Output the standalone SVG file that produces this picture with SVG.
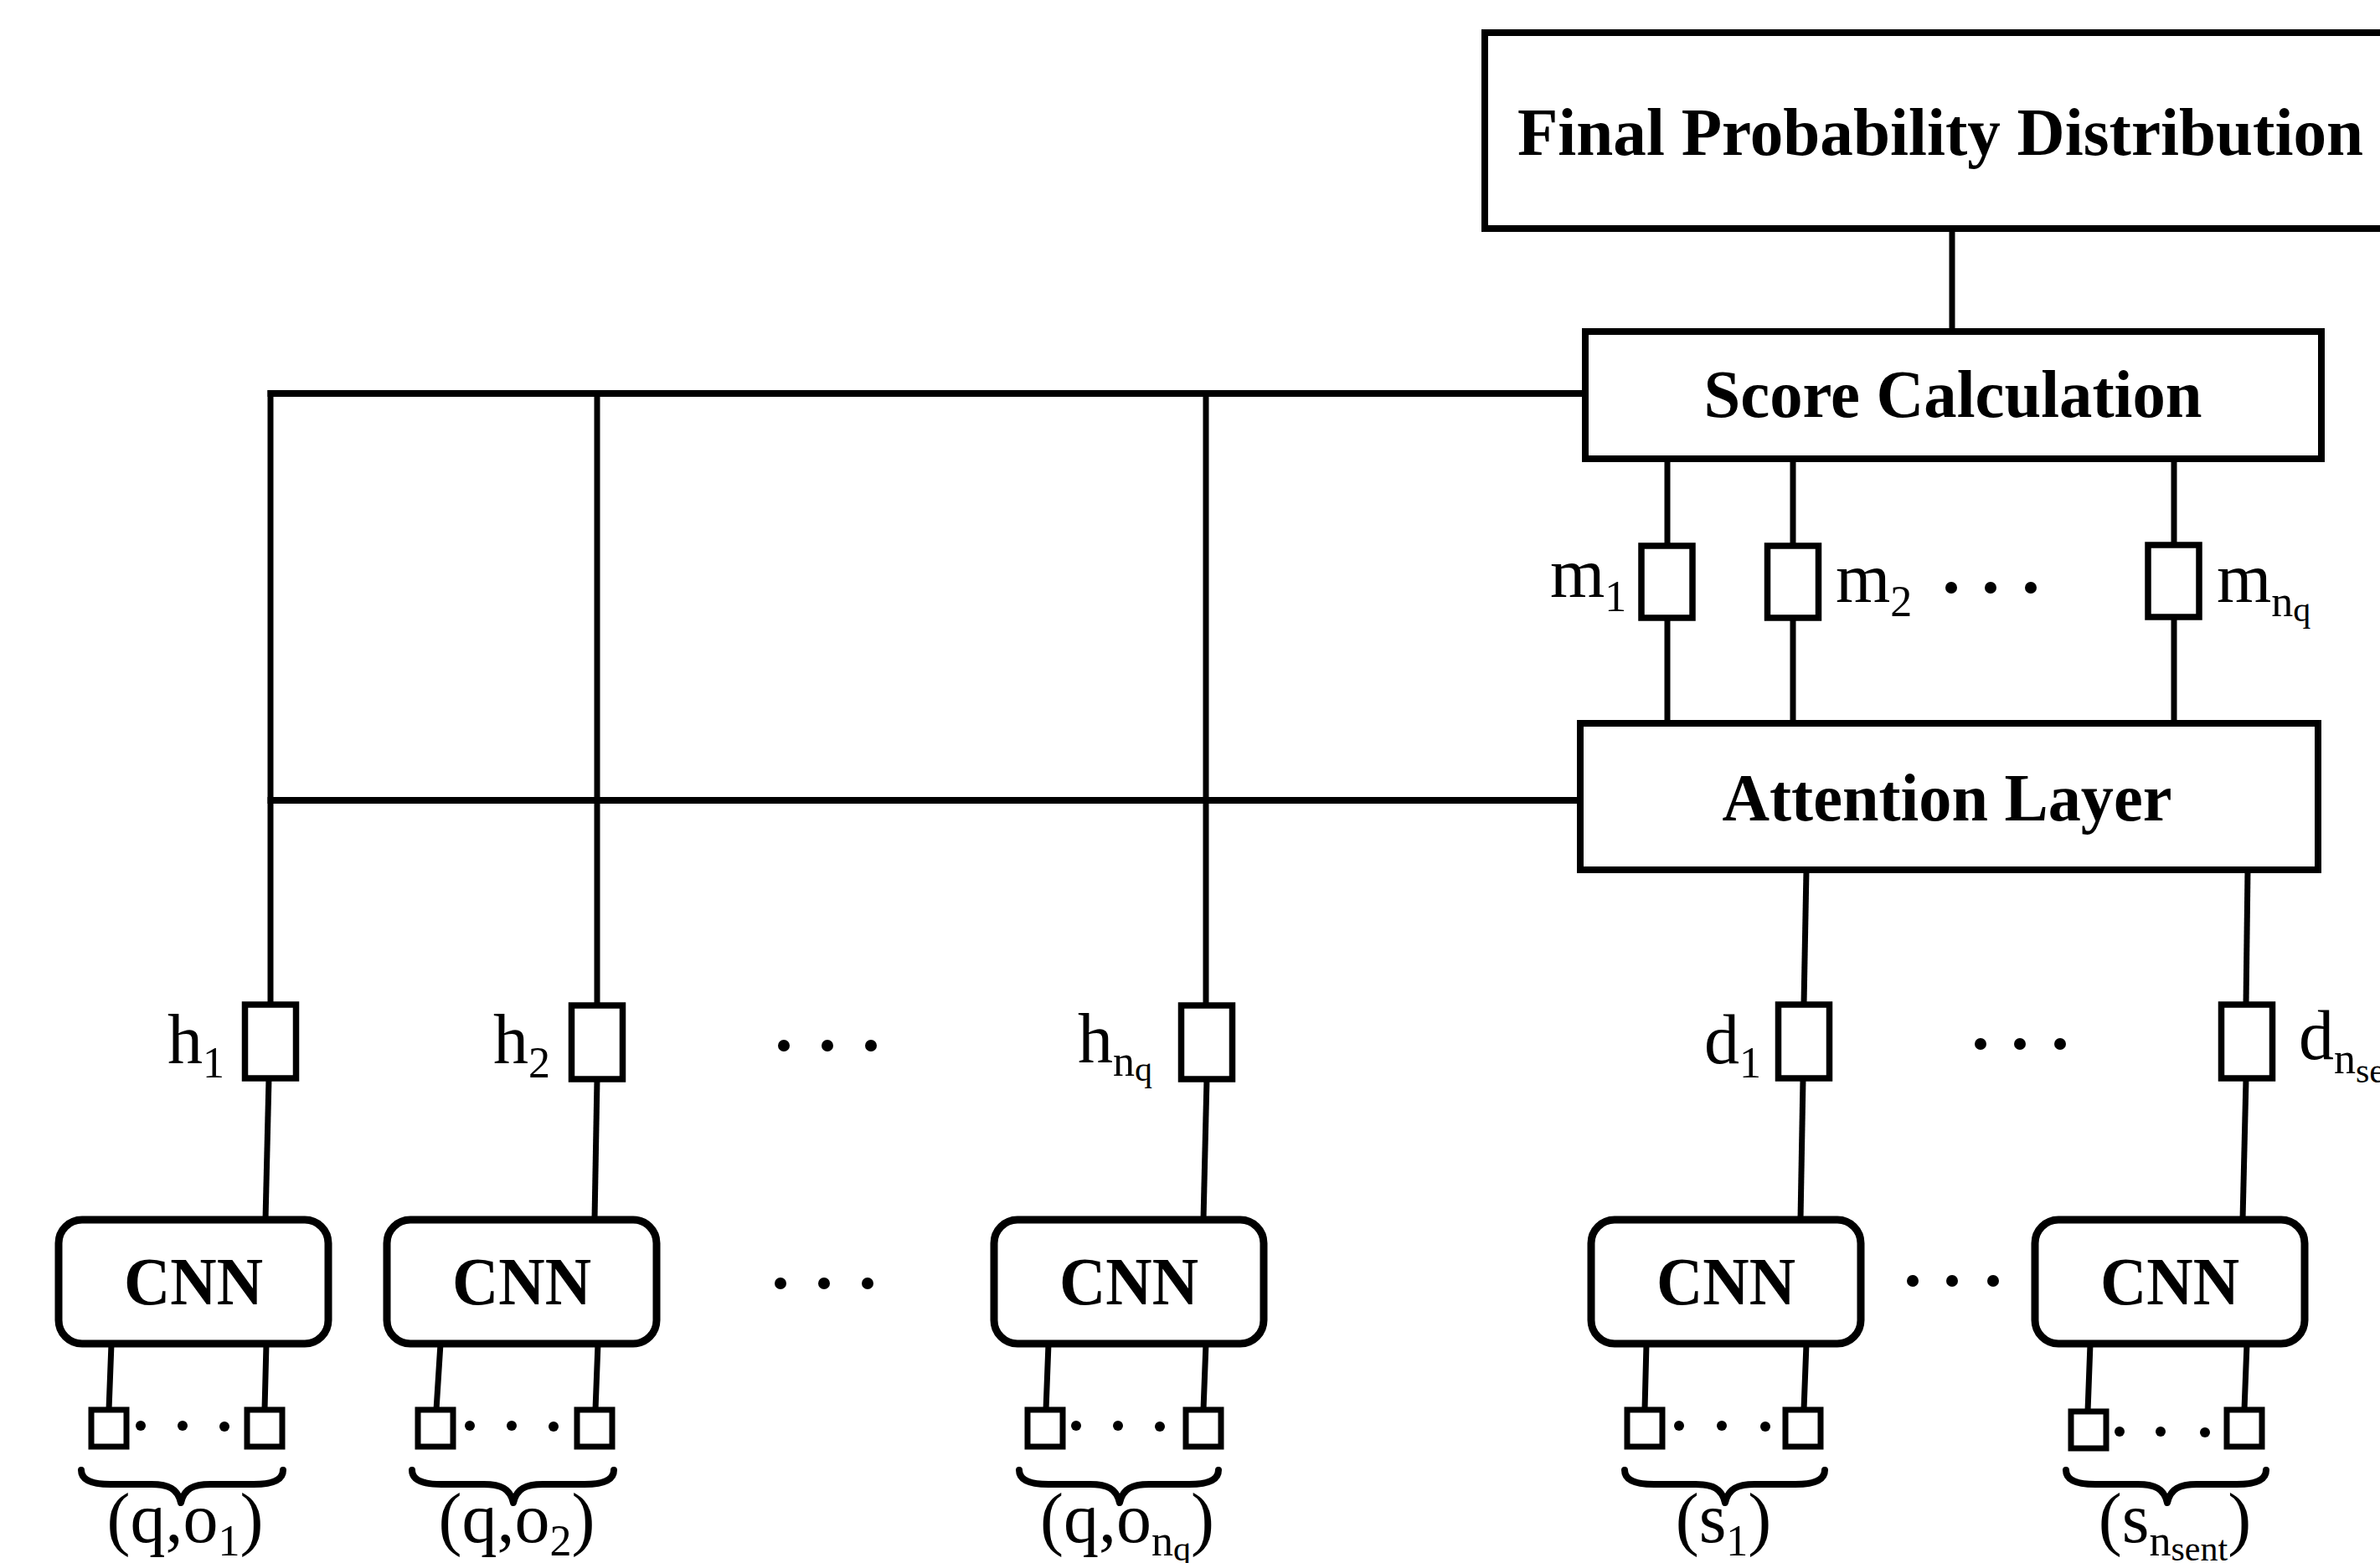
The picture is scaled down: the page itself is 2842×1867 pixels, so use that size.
<svg xmlns="http://www.w3.org/2000/svg" width="2842" height="1867" viewBox="0 0 2842 1867">
<style>
.box{fill:#fff;stroke:#000;stroke-width:8}
.vec{fill:#fff;stroke:#000;stroke-width:7.5}
.cnn{fill:#fff;stroke:#000;stroke-width:9}
.tok{fill:#fff;stroke:#000;stroke-width:7}
.wire{fill:none;stroke:#000;stroke-width:7}
.bus{fill:none;stroke:#000;stroke-width:8}
.brace{fill:none;stroke:#000;stroke-width:8;stroke-linecap:round;stroke-linejoin:round}
.title{font-family:"Liberation Serif","Times New Roman",serif;font-weight:bold;font-size:80px;text-anchor:middle}
.lbl{font-family:"Liberation Serif","Times New Roman",serif;font-size:84px}
.mid{text-anchor:middle}
.sub{font-size:52px}
.ssub{font-size:42px}
.dot{fill:#000}
</style>
<defs>
  <rect id="vecbox" class="vec" x="-30.5" y="0" width="61" height="88"/>
  <rect id="token" class="tok" x="-21" y="0" width="42" height="44"/>
</defs>
<rect width="2842" height="1867" fill="#fff"/>

<!-- wiring between the layers -->
<g id="connectors">
  <path class="bus" d="M1893 470 H319.5"/>
  <path class="bus" d="M1887 956 H319.5"/>
  <path class="wire" d="M323 466 V1200"/>
  <path class="wire" d="M713 470 V1200"/>
  <path class="wire" d="M1440 470 V1200"/>
  <path class="wire" d="M2331 273 V396"/>
  <path class="wire" d="M1991 548 V652 M1991 738 V864"/>
  <path class="wire" d="M2141 548 V652 M2141 738 V864"/>
  <path class="wire" d="M2596 548 V652 M2596 738 V864"/>
  <path class="wire" d="M2157 1039 L2154 1200"/>
  <path class="wire" d="M2684 1039 L2682 1200"/>
  <path class="wire" d="M321 1289 L317 1457"/>
  <path class="wire" d="M713 1289 L710 1457"/>
  <path class="wire" d="M1441 1289 L1437 1457"/>
  <path class="wire" d="M2153 1289 L2150 1457"/>
  <path class="wire" d="M2682 1289 L2678 1457"/>
  <path class="wire" d="M133 1605 L130 1684 M318 1605 L316 1684"/>
  <path class="wire" d="M526 1605 L521 1684 M714 1605 L711 1684"/>
  <path class="wire" d="M1252 1605 L1249 1684 M1440 1605 L1437 1684"/>
  <path class="wire" d="M1966 1605 L1964 1684 M2157 1605 L2154 1684"/>
  <path class="wire" d="M2496 1605 L2493 1686 M2683 1605 L2680 1684"/>
</g>

<g id="final">
  <rect class="box" x="1773" y="39" width="1100" height="234"/>
  <text class="title" x="2317" y="185" textLength="1010" lengthAdjust="spacingAndGlyphs">Final Probability Distribution</text>
</g>

<g id="score">
  <rect class="box" x="1893" y="396" width="879" height="152"/>
  <text class="title" x="2332" y="498" textLength="595" lengthAdjust="spacingAndGlyphs">Score Calculation</text>
</g>

<g id="attention">
  <rect class="box" x="1887" y="864" width="881" height="175"/>
  <text class="title" x="2325" y="980" textLength="537" lengthAdjust="spacingAndGlyphs">Attention Layer</text>
</g>

<!-- memory vectors -->
<g id="m1">
  <rect class="vec" x="1960" y="652" width="61" height="86"/>
  <text class="lbl" x="1851" y="713">m<tspan class="sub" dy="17">1</tspan></text>
</g>
<g id="m2">
  <rect class="vec" x="2110.5" y="652" width="61" height="86"/>
  <text class="lbl" x="2192" y="719">m<tspan class="sub" dy="17">2</tspan></text>
</g>
<g id="m-dots">
  <circle class="dot" cx="2330" cy="702" r="7"/>
  <circle class="dot" cx="2377" cy="702" r="7"/>
  <circle class="dot" cx="2425" cy="702" r="7"/>
</g>
<g id="mnq">
  <rect class="vec" x="2565" y="651" width="61" height="86"/>
  <text class="lbl" x="2647" y="719">m<tspan class="sub" dy="17">n</tspan><tspan class="ssub" dy="6">q</tspan></text>
</g>

<!-- option encodings -->
<g id="h1">
  <use href="#vecbox" x="323" y="1200"/>
  <text class="lbl" x="200" y="1270">h<tspan class="sub" dy="17">1</tspan></text>
</g>
<g id="h2">
  <use href="#vecbox" x="713" y="1201"/>
  <text class="lbl" x="589" y="1270">h<tspan class="sub" dy="17">2</tspan></text>
</g>
<g id="h-dots">
  <circle class="dot" cx="936" cy="1249" r="7"/>
  <circle class="dot" cx="988" cy="1249" r="7"/>
  <circle class="dot" cx="1040" cy="1249" r="7"/>
</g>
<g id="hnq">
  <use href="#vecbox" x="1441" y="1201"/>
  <text class="lbl" x="1287" y="1269">h<tspan class="sub" dy="16">n</tspan><tspan class="ssub" dy="6">q</tspan></text>
</g>

<!-- sentence encodings -->
<g id="d1">
  <use href="#vecbox" x="2154" y="1200"/>
  <text class="lbl" x="2035" y="1270">d<tspan class="sub" dy="17">1</tspan></text>
</g>
<g id="d-dots">
  <circle class="dot" cx="2365" cy="1247" r="7"/>
  <circle class="dot" cx="2412" cy="1247" r="7"/>
  <circle class="dot" cx="2460" cy="1247" r="7"/>
</g>
<g id="dnsent">
  <use href="#vecbox" x="2683" y="1200"/>
  <text class="lbl" x="2745" y="1265">d<tspan class="sub" dy="17">n</tspan><tspan class="ssub" dy="11">sent</tspan></text>
</g>

<!-- CNN encoders -->
<g id="cnn1">
  <rect class="cnn" x="70" y="1457" width="322" height="148" rx="28"/>
  <text class="title" x="231" y="1558" textLength="166" lengthAdjust="spacingAndGlyphs">CNN</text>
</g>
<g id="cnn2">
  <rect class="cnn" x="462" y="1457" width="322" height="148" rx="28"/>
  <text class="title" x="623" y="1558" textLength="166" lengthAdjust="spacingAndGlyphs">CNN</text>
</g>
<g id="cnn-dots-left">
  <circle class="dot" cx="932" cy="1533" r="7"/>
  <circle class="dot" cx="984" cy="1533" r="7"/>
  <circle class="dot" cx="1036" cy="1533" r="7"/>
</g>
<g id="cnn3">
  <rect class="cnn" x="1187" y="1457" width="322" height="148" rx="28"/>
  <text class="title" x="1348" y="1558" textLength="166" lengthAdjust="spacingAndGlyphs">CNN</text>
</g>
<g id="cnn4">
  <rect class="cnn" x="1900" y="1457" width="322" height="148" rx="28"/>
  <text class="title" x="2061" y="1558" textLength="166" lengthAdjust="spacingAndGlyphs">CNN</text>
</g>
<g id="cnn-dots-right">
  <circle class="dot" cx="2284" cy="1530" r="7"/>
  <circle class="dot" cx="2331" cy="1530" r="7"/>
  <circle class="dot" cx="2380" cy="1530" r="7"/>
</g>
<g id="cnn5">
  <rect class="cnn" x="2430" y="1457" width="322" height="148" rx="28"/>
  <text class="title" x="2591" y="1558" textLength="166" lengthAdjust="spacingAndGlyphs">CNN</text>
</g>

<!-- word inputs with braces and labels -->
<g id="in1">
  <use href="#token" x="130" y="1684"/>
  <use href="#token" x="316" y="1684"/>
  <circle class="dot" cx="168" cy="1703" r="6"/>
  <circle class="dot" cx="218" cy="1703" r="6"/>
  <circle class="dot" cx="268" cy="1704" r="6"/>
  <path class="brace" d="M97 1756 C97 1768 109 1773 132 1773 L181 1773 C201 1773 212 1778 216 1795 C220 1778 231 1773 251 1773 L303 1773 C326 1773 338 1768 338 1756"/>
  <text class="lbl mid" x="221" y="1842">(q,o<tspan class="sub" dy="16">1</tspan><tspan dy="-16">)</tspan></text>
</g>
<g id="in2">
  <use href="#token" x="520" y="1684"/>
  <use href="#token" x="710" y="1684"/>
  <circle class="dot" cx="561" cy="1703" r="6"/>
  <circle class="dot" cx="611" cy="1703" r="6"/>
  <circle class="dot" cx="661" cy="1704" r="6"/>
  <path class="brace" d="M492 1756 C492 1768 504 1773 527 1773 L578 1773 C598 1773 609 1778 613 1795 C617 1778 628 1773 648 1773 L698 1773 C721 1773 733 1768 733 1756"/>
  <text class="lbl mid" x="617" y="1842">(q,o<tspan class="sub" dy="16">2</tspan><tspan dy="-16">)</tspan></text>
</g>
<g id="in3">
  <use href="#token" x="1248" y="1684"/>
  <use href="#token" x="1437" y="1684"/>
  <circle class="dot" cx="1285" cy="1703" r="6"/>
  <circle class="dot" cx="1335" cy="1703" r="6"/>
  <circle class="dot" cx="1385" cy="1704" r="6"/>
  <path class="brace" d="M1217 1756 C1217 1768 1229 1773 1252 1773 L1302 1773 C1322 1773 1333 1778 1337 1795 C1341 1778 1352 1773 1372 1773 L1420 1773 C1443 1773 1455 1768 1455 1756"/>
  <text class="lbl mid" x="1346" y="1842">(q,o<tspan class="sub" dy="16">n</tspan><tspan class="ssub" dy="6">q</tspan><tspan dy="-22">)</tspan></text>
</g>
<g id="in4">
  <use href="#token" x="1964" y="1684"/>
  <use href="#token" x="2153" y="1684"/>
  <circle class="dot" cx="2005" cy="1703" r="6"/>
  <circle class="dot" cx="2056" cy="1703" r="6"/>
  <circle class="dot" cx="2108" cy="1704" r="6"/>
  <path class="brace" d="M1940 1756 C1940 1768 1952 1773 1975 1773 L2025 1773 C2045 1773 2056 1778 2060 1795 C2064 1778 2075 1773 2095 1773 L2144 1773 C2167 1773 2179 1768 2179 1756"/>
  <text class="lbl mid" x="2058" y="1842">(s<tspan class="sub" dy="16">1</tspan><tspan dy="-16">)</tspan></text>
</g>
<g id="in5">
  <use href="#token" x="2494" y="1686"/>
  <use href="#token" x="2680" y="1684"/>
  <circle class="dot" cx="2531" cy="1710" r="6"/>
  <circle class="dot" cx="2580" cy="1710" r="6"/>
  <circle class="dot" cx="2633" cy="1711" r="6"/>
  <path class="brace" d="M2467 1756 C2467 1768 2479 1773 2502 1773 L2553 1773 C2573 1773 2584 1778 2588 1795 C2592 1778 2603 1773 2623 1773 L2671 1773 C2694 1773 2706 1768 2706 1756"/>
  <text class="lbl mid" x="2597" y="1842">(s<tspan class="sub" dy="16">n</tspan><tspan class="ssub" dy="6">sent</tspan><tspan dy="-22">)</tspan></text>
</g>
</svg>
